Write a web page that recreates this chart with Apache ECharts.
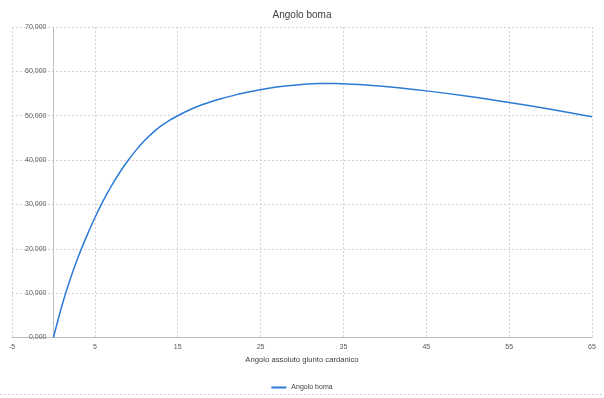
<!DOCTYPE html>
<html>
<head>
<meta charset="utf-8">
<script src="https://cdn.jsdelivr.net/npm/echarts@6/dist/echarts.min.js"></script>
<style>
html,body{margin:0;padding:0;background:#fff;}
#chart{width:604px;height:398px;}
</style>
</head>
<body>
<div id="chart"></div>
<script>
// --- data ---
var chartTitle = 'Angolo boma';
var xAxisTitle = 'Angolo assoluto giunto cardanico';
var seriesName = 'Angolo boma';
var angleX = [0, 1, 2, 3, 4, 5, 6, 7, 8, 9, 10, 11, 12, 13, 14, 15, 16, 17, 18, 19, 20, 22, 24, 26, 28, 30, 32, 34, 36, 40, 45, 50, 55, 60, 65];
var boomY  = [0, 7.0, 13.0, 18.2, 22.8, 27.0, 30.8, 34.2, 37.2, 39.9, 42.3, 44.4, 46.2, 47.7, 48.95, 50.0, 50.95, 51.8, 52.52, 53.15, 53.7, 54.7, 55.5, 56.2, 56.7, 57.05, 57.25, 57.25, 57.1, 56.6, 55.6, 54.4, 53.0, 51.45, 49.75];
var xMin = -5, xMax = 65, xStep = 10;
var yMin = 0, yMax = 70, yStep = 10;

var points = angleX.map(function (x, i) { return [x, boomY[i]]; });

var font = 'Liberation Sans, Arial, sans-serif';
var gridColor = '#dccddc';

var gridLeft = 12, gridRight = 12;
var plotWidth = 604 - gridLeft - gridRight;
// y axis sits at x = 0 (inside the plot, as in the reference)
var yAxisShift = (0 - xMin) / (xMax - xMin) * plotWidth;

var chart = echarts.init(document.getElementById('chart'), null, {renderer: 'canvas'});
chart.setOption({
  animation: false,
  backgroundColor: '#ffffff',
  title: {
    text: chartTitle,
    left: 'center',
    top: 5,
    textStyle: {fontFamily: font, fontSize: 10, fontWeight: 'normal', color: '#404040'}
  },
  legend: {
    data: [{name: seriesName, icon: 'rect'}],
    left: 'center',
    top: 379,
    itemWidth: 15,
    itemHeight: 2,
    textStyle: {fontFamily: font, fontSize: 7, color: '#404040'}
  },
  grid: {left: gridLeft, right: gridRight, top: 27, bottom: 60.5, containLabel: false, outerBoundsMode: 'none'},
  xAxis: {
    type: 'value',
    min: xMin, max: xMax, interval: xStep,
    name: xAxisTitle,
    nameLocation: 'middle',
    nameGap: 17,
    nameTextStyle: {fontFamily: font, fontSize: 7.7, color: '#404040'},
    axisLine: {show: true, onZero: false, lineStyle: {color: '#bfbfbf', width: 1}},
    axisTick: {show: false},
    axisLabel: {fontFamily: font, fontSize: 7, color: '#595959', margin: 6},
    splitLine: {show: true, lineStyle: {color: gridColor, type: [2, 2], width: 1}}
  },
  yAxis: {
    type: 'value',
    min: yMin, max: yMax, interval: yStep,
    offset: -yAxisShift,
    axisLine: {show: true, onZero: false, lineStyle: {color: '#bfbfbf', width: 1}},
    axisTick: {show: false},
    axisLabel: {
      fontFamily: font, fontSize: 7, color: '#595959', margin: 7,
      formatter: function (v) { return v.toFixed(3).replace('.', ','); }
    },
    splitLine: {show: true, lineStyle: {color: gridColor, type: [2, 2], width: 1}}
  },
  series: [{
    name: seriesName,
    type: 'line',
    data: points,
    smooth: 0.3,
    showSymbol: false,
    symbol: 'none',
    lineStyle: {color: '#2b7bd6', width: 1.5},
    itemStyle: {color: '#2b7bd6'}
  }],
  graphic: [{
    type: 'line',
    shape: {x1: 0, y1: 394.5, x2: 604, y2: 394.5},
    style: {stroke: '#dccddc', lineWidth: 1, lineDash: [2, 2]}
  }]
});
</script>
</body>
</html>
